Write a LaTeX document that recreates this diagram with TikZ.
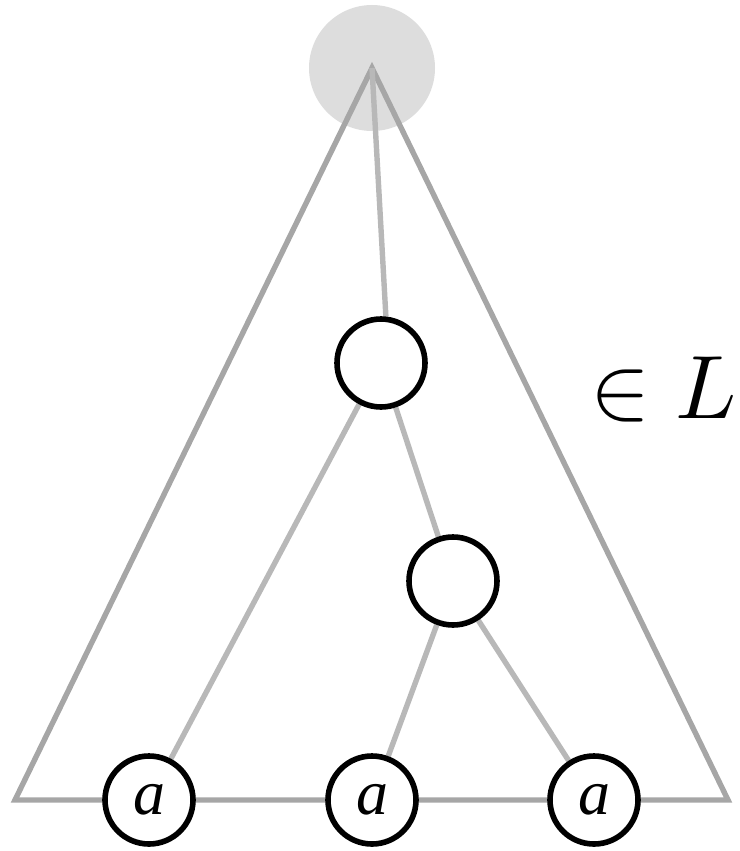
\documentclass[tikz,border=0pt]{standalone}
\usepackage{graphicx}
\usepackage{amsmath}
\usepackage{amssymb}
\usepackage{fontspec}
\newfontfamily\leaffont{Liberation Serif}
\usetikzlibrary{positioning, calc, backgrounds}
\definecolor{treegray}{HTML}{A6A6A6}
\definecolor{edgegray}{HTML}{B8B8B8}
\definecolor{rootfill}{HTML}{DDDDDD}
\tikzset{
  inner/.style={circle, draw=black, line width=5.6pt, fill=white,
                minimum size=88pt, inner sep=0pt},
  leaf/.style={circle, draw=black, line width=5.6pt, fill=white,
               minimum size=88pt, inner sep=0pt,
               font=\leaffont\itshape\fontsize{64}{64}\selectfont},
  tree/.style={draw=treegray, line width=5.4pt, line join=miter},
  edge/.style={draw=edgegray, line width=5.4pt},
}

\begin{document}
\begin{tikzpicture}[x=1pt, y=-1pt]
  \useasboundingbox (0,0) rectangle (739,851);
  \coordinate (root) at (372,68);
  \coordinate (bl) at (15,800);
  \coordinate (br) at (728,800);
  \node (n1) [inner] at (381,363) {};
  \node (n2) [inner] at (453,581) {};
  \node (la) [leaf] at (149,800) {a};
  \node (lb) [leaf] at (372,800) {a};
  \node (lc) [leaf] at (594,800) {a};
  \node (lang) [anchor=base west, inner sep=0pt] at (590,418)
        {\scalebox{9}{$\in L$}};
  % grey root, tree outline and edges go behind the nodes
  \begin{scope}[on background layer]
    \fill[rootfill] (root) circle (63pt);
    \draw[tree] (root) -- (bl) -- (br) -- cycle;
    \draw[edge] (root) -- (n1.84);
    \draw[edge] (n1) -- (la); \draw[edge] (n1) -- (n2);
    \draw[edge] (n2) -- (lb); \draw[edge] (n2) -- (lc);
  \end{scope}
\end{tikzpicture}
\end{document}
